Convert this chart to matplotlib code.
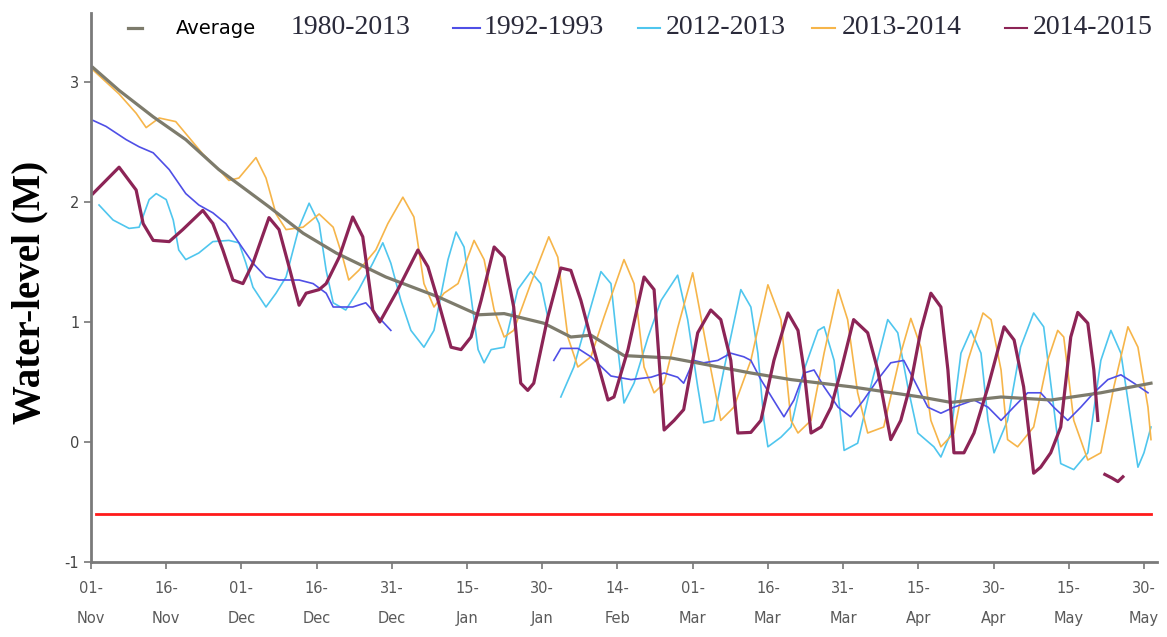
import numpy as np
import matplotlib
matplotlib.use("Agg")
import matplotlib.pyplot as plt
from matplotlib.lines import Line2D

# Days counted from 01-Nov
tick_days = [0, 15, 30, 45, 60, 75, 90, 105, 120, 135, 150, 165, 180, 195, 210]
tick_labels = ["01-\nNov", "16-\nNov", "01-\nDec", "16-\nDec", "31-\nDec", "15-\nJan", "30-\nJan",
               "14-\nFeb", "01-\nMar", "16-\nMar", "31-\nMar", "15-\nApr", "30-\nApr", "15-\nMay", "30-\nMay"]

# Average 1980-2013
avg_day = [0.4, 5.6, 12.4, 18.9, 25.5, 35.5, 42.3, 48.9, 58.8, 69.2, 77.2, 82.4, 90.3, 95.7, 99.7,
           106.3, 115.7, 131.6, 139.6, 151.6, 165.5, 171.5, 181.5, 191.5, 201.4, 211.4]
avg_val = [3.12, 2.93, 2.71, 2.52, 2.27, 1.96, 1.74, 1.575, 1.375, 1.21, 1.06, 1.07, 0.99, 0.875, 0.89,
           0.72, 0.70, 0.575, 0.52, 0.46, 0.375, 0.33, 0.375, 0.35, 0.41, 0.49]

# 1992-1993
y92_day = [0.4, 3.0, 7.0, 9.6, 12.4, 15.6, 18.9, 21.5, 24.3, 26.9, 29.5, 32.3, 34.9, 37.5, 41.5, 44.3,
           46.9, 48.3, 52.2, 54.8, 57.8, 59.8, 76.0,
           92.3, 93.7, 97.1, 99.7, 103.7, 107.7, 111.7, 114.3, 117.0, 118.2, 120.2, 122.2, 125.0, 127.6,
           130.2, 131.6, 133.6, 137.0, 138.2, 140.2, 142.2, 144.2, 146.2, 149.0, 151.5, 154.1, 156.9,
           159.5, 162.1, 164.1, 166.9, 169.5, 172.1, 176.1, 178.9, 181.5, 184.0, 186.8, 189.4, 192.0,
           194.8, 197.4, 200.0, 202.8, 205.4, 208.0, 210.8]
y92_val = [2.68, 2.63, 2.52, 2.46, 2.41, 2.27, 2.07, 1.975, 1.91, 1.82, 1.66, 1.49, 1.375, 1.35, 1.35, 1.32,
           1.24, 1.125, 1.125, 1.16, 1.02, 0.93, np.nan,
           0.68, 0.78, 0.78, 0.71, 0.55, 0.52, 0.54, 0.575, 0.54, 0.49, 0.68, 0.66, 0.68, 0.74,
           0.71, 0.68, 0.52, 0.29, 0.21, 0.35, 0.575, 0.6, 0.46, 0.29, 0.21, 0.35, 0.52,
           0.66, 0.68, 0.52, 0.29, 0.24, 0.29, 0.35, 0.29, 0.18, 0.29, 0.41, 0.41, 0.29,
           0.18, 0.29, 0.41, 0.52, 0.56, 0.49, 0.41]

# 2012-2013
y12_day = [1.6, 4.4, 7.6, 9.6, 11.6, 13.0, 15.0, 16.4, 17.5, 18.9, 21.5, 24.3, 27.5, 29.5, 30.9, 32.3,
           34.9, 36.9, 38.9, 41.5, 43.5, 45.5, 46.9, 48.3, 50.8, 53.4, 56.2, 58.2, 59.8, 61.8, 63.8,
           66.4, 68.4, 71.2, 72.8, 74.4, 75.8, 77.2, 78.4, 79.8, 82.4, 85.1, 87.7, 89.7, 91.1, 92.4,
           93.7, 96.3, 99.1, 101.7, 103.7, 105.1, 106.3, 108.3, 111.1, 113.7, 117.0, 119.0, 121.0,
           122.2, 124.2, 126.2, 129.6, 131.6, 133.0, 134.2, 135.0, 137.6, 139.6, 142.2, 145.0, 146.2,
           148.2, 149.6, 150.2, 152.9, 155.5, 158.9, 160.9, 162.9, 164.9, 168.1, 169.5, 171.5, 173.5,
           175.5, 177.5, 178.9, 180.1, 182.8, 185.4, 188.0, 190.0, 192.0, 193.4, 196.0, 198.8, 201.4,
           203.4, 205.4, 207.4, 208.8, 210.0, 211.4]
y12_val = [1.975, 1.85, 1.78, 1.79, 2.02, 2.07, 2.02, 1.85, 1.6, 1.52, 1.575, 1.67, 1.68, 1.66, 1.49, 1.29,
           1.125, 1.24, 1.375, 1.79, 1.99, 1.82, 1.43, 1.16, 1.1, 1.27, 1.49, 1.66, 1.49, 1.18, 0.93,
           0.79, 0.93, 1.52, 1.75, 1.625, 1.21, 0.77, 0.66, 0.77, 0.79, 1.27, 1.42, 1.32, 1.04, np.nan,
           0.375, 0.625, 1.04, 1.42, 1.32, 0.77, 0.325, 0.49, 0.875, 1.18, 1.39, 1.02, 0.46,
           0.16, 0.18, 0.6, 1.27, 1.125, 0.74, 0.18, -0.04, 0.04, 0.125, 0.6, 0.93, 0.96,
           0.68, 0.18, -0.07, -0.01, 0.46, 1.02, 0.91, 0.46, 0.075, -0.04, -0.125, 0.075, 0.74,
           0.93, 0.74, 0.18, -0.09, 0.18, 0.79, 1.075, 0.96, 0.29, -0.18, -0.23, -0.09, 0.68,
           0.93, 0.74, 0.18, -0.21, -0.09, 0.125]

# 2013-2014
y13_day = [0.4, 5.6, 9.0, 11.0, 13.6, 16.9, 18.9, 22.3, 25.5, 27.5, 29.5, 32.9, 34.9, 36.9, 38.9, 42.3,
           45.5, 48.3, 50.2, 51.4, 53.4, 56.8, 59.2, 62.2, 64.4, 66.4, 68.4, 70.4, 73.2, 76.4, 78.4,
           80.4, 82.4, 84.3, 87.7, 91.3, 93.1, 95.1, 97.1, 99.7, 102.3, 106.3, 108.3, 110.3, 112.3,
           114.3, 117.0, 120.0, 123.0, 125.6, 128.2, 131.6, 135.0, 137.6, 139.6, 141.0, 143.6, 146.2,
           149.0, 150.9, 152.9, 154.9, 158.1, 161.5, 163.5, 165.5, 167.5, 169.5, 172.1, 174.9, 177.9,
           179.5, 181.5, 182.8, 184.8, 188.0, 190.8, 192.8, 194.0, 196.0, 198.8, 201.4, 204.0, 206.8,
           208.8, 210.8, 211.4]
y13_val = [3.1, 2.9, 2.74, 2.62, 2.7, 2.67, 2.57, 2.4, 2.27, 2.18, 2.2, 2.37, 2.2, 1.9, 1.77, 1.79,
           1.9, 1.79, 1.54, 1.35, 1.43, 1.6, 1.82, 2.04, 1.875, 1.32, 1.125, 1.24, 1.32, 1.68, 1.52,
           1.1, 0.875, 0.93, 1.32, 1.71, 1.54, 0.875, 0.625, 0.71, 1.04, 1.52, 1.32, 0.625, 0.41,
           0.49, 0.95, 1.41, 0.74, 0.18, 0.29, 0.68, 1.31, 1.02, 0.18, 0.075, 0.18, 0.74,
           1.27, 1.02, 0.41, 0.075, 0.125, 0.74, 1.03, 0.79, 0.18, -0.04, 0.075, 0.68, 1.075,
           1.02, 0.6, 0.02, -0.04, 0.125, 0.68, 0.93, 0.875, 0.18, -0.15, -0.09, 0.46, 0.96,
           0.79, 0.29, 0.02]

# 2014-2015
y14_day = [0.4, 5.6, 9.0, 10.4, 12.4, 15.6, 18.3, 22.3, 24.3, 26.3, 28.3, 30.3, 32.3, 35.5, 37.5, 39.5,
           41.5, 42.9, 45.5, 46.9, 49.5, 52.2, 54.2, 56.2, 57.6, 61.2, 65.2, 67.2, 69.2, 71.8, 73.8,
           75.8, 77.8, 80.4, 82.4, 84.3, 85.7, 87.1, 88.3, 91.1, 93.7, 95.7, 97.7, 100.3, 103.1, 104.3,
           107.1, 110.3, 112.3, 114.3, 116.3, 118.2, 121.0, 123.6, 125.6, 127.6, 129.0, 131.6, 133.6,
           136.2, 139.0, 141.0, 142.2, 143.6, 145.6, 147.6, 149.6, 152.1, 154.9, 156.9, 159.5, 161.5,
           163.5, 165.5, 167.5, 169.5, 170.9, 172.1, 174.1, 176.1, 178.9, 182.1, 184.1, 186.0, 188.0,
           189.4, 191.4, 193.4, 195.4, 196.8, 198.8, 200.0, 200.8, 201.5,
           202.2, 203.6, 204.8, 205.8]
y14_val = [2.07, 2.29, 2.1, 1.82, 1.68, 1.67, 1.77, 1.93, 1.82, 1.6, 1.35, 1.32, 1.49, 1.87, 1.77, 1.46,
           1.14, 1.24, 1.27, 1.32, 1.54, 1.875, 1.71, 1.1, 1.0, 1.27, 1.6, 1.46, 1.18, 0.79, 0.77,
           0.875, 1.18, 1.625, 1.54, 1.125, 0.49, 0.43, 0.49, 1.04, 1.45, 1.43, 1.18, 0.77, 0.35, 0.375,
           0.77, 1.375, 1.27, 0.1, 0.18, 0.27, 0.91, 1.1, 1.02, 0.68, 0.075, 0.08, 0.18,
           0.68, 1.075, 0.93, 0.6, 0.075, 0.125, 0.29, 0.6, 1.02, 0.91, 0.6, 0.02, 0.18,
           0.49, 0.93, 1.24, 1.125, 0.6, -0.09, -0.09, 0.075, 0.46, 0.96, 0.85, 0.46, -0.26,
           -0.21, -0.09, 0.125, 0.875, 1.08, 0.99, 0.6, 0.18, np.nan,
           -0.27, -0.30, -0.33, -0.29]

limit_level = -0.6

fig = plt.figure(figsize=(11.67, 6.37), dpi=100)
ax = fig.add_axes([91 / 1167, 75 / 637, 1065.5 / 1167, 549 / 637])

c_avg = "#7d7b6c"
c_92 = "#4f4fe6"
c_12 = "#4fc6ee"
c_13 = "#f6b54a"
c_14 = "#8c2456"

ax.plot(y12_day, y12_val, color=c_12, lw=1.2)
ax.plot(y13_day, y13_val, color=c_13, lw=1.2)
ax.plot(y92_day, y92_val, color=c_92, lw=1.2)
ax.plot(avg_day, avg_val, color=c_avg, lw=2.3)
ax.plot(y14_day, y14_val, color=c_14, lw=2.3)
ax.axhline(limit_level, xmin=0.005, xmax=0.995, color="#ff1a1a", lw=2)

ax.set_xlim(0, 212.5)
ax.set_ylim(-1, 3.575)
ax.set_yticks([-1, 0, 1, 2, 3])
ax.set_yticklabels(["-1", "0", "1", "2", "3"], fontsize=10.5, color="#444444")
ax.set_xticks(tick_days)
ax.set_xticklabels(tick_labels, fontsize=10.5, color="#5a5a5a", linespacing=2.2)
ax.tick_params(axis="both", direction="out", length=5, color="#777777", width=1.2)
ax.tick_params(axis="x", pad=9)
for s in ["top", "right"]:
    ax.spines[s].set_visible(False)
for s in ["left", "bottom"]:
    ax.spines[s].set_color("#7a7a7a")
    ax.spines[s].set_linewidth(2)

fig.text(30 / 1167, 1 - 292 / 637, "Water-level (M)", rotation=90, ha="center", va="center",
         family="Liberation Serif", fontweight="bold", fontsize=28)

# legend drawn across the top
W, H = 1167, 637
leg = [(128, 142, c_avg, 2.3), (453, 480, c_92, 1.5), (638, 660, c_12, 1.5),
       (812, 835, c_13, 1.5), (1005, 1027, c_14, 1.5)]
for x0, x1, c, lw in leg:
    fig.add_artist(Line2D([x0 / W, x1 / W], [1 - 28 / H, 1 - 28 / H], color=c, lw=lw,
                          transform=fig.transFigure))
fig.text(176 / W, 1 - 28 / H, "Average", family="DejaVu Sans", fontsize=14, va="center")
leg_text = [(291, "1980-2013"), (484, "1992-1993"), (666, "2012-2013"), (842, "2013-2014"), (1033, "2014-2015")]
for x, t in leg_text:
    fig.text(x / W, 1 - 28 / H, t, family="Liberation Serif", fontsize=20, va="center", color="#2a2a3a")

fig.savefig("out.png", dpi=100)
